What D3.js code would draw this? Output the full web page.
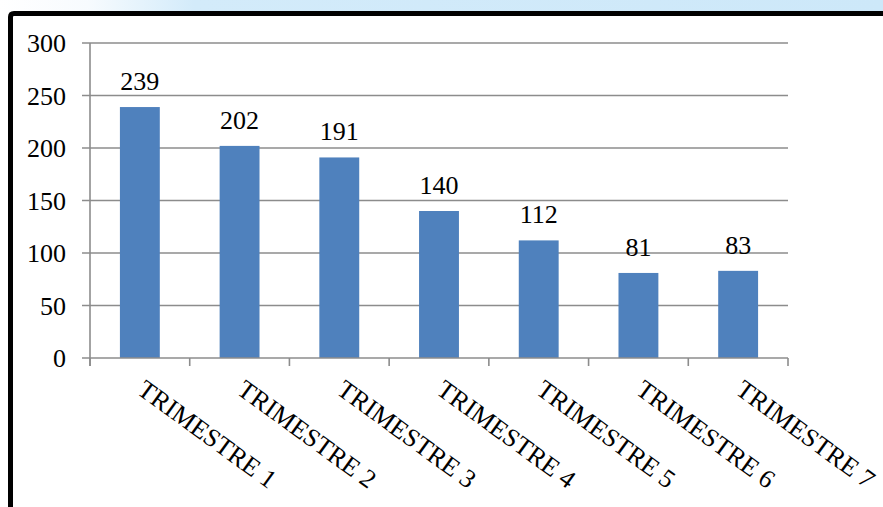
<!DOCTYPE html>
<html>
<head>
<meta charset="utf-8">
<script src="https://cdn.jsdelivr.net/npm/d3@7"></script>
<style>
  html, body { margin: 0; padding: 0; background: #fff; }
  svg { display: block; }
</style>
</head>
<body>
<svg id="chart" width="883" height="507"></svg>
<script>
// Quarterly counts
const categories = ["TRIMESTRE 1", "TRIMESTRE 2", "TRIMESTRE 3", "TRIMESTRE 4",
                    "TRIMESTRE 5", "TRIMESTRE 6", "TRIMESTRE 7"];
const values = [239, 202, 191, 140, 112, 81, 83];
const yTicks = [0, 50, 100, 150, 200, 250, 300];

const W = 883, H = 507;
const margin = { left: 90, right: 95, top: 43, bottom: 149 };
const FONT = '"Liberation Serif"';
const svg = d3.select("#chart").style("font-family", FONT);

// Pale banner strip along the top edge
const defs = svg.append("defs");
const grad = defs.append("linearGradient").attr("id", "band")
  .attr("x1", 0).attr("x2", 1).attr("y1", 0).attr("y2", 0);
grad.append("stop").attr("offset", "0%").attr("stop-color", "#ffffff");
grad.append("stop").attr("offset", "10%").attr("stop-color", "#f7fbfe");
grad.append("stop").attr("offset", "22%").attr("stop-color", "#d3ebfa");
grad.append("stop").attr("offset", "100%").attr("stop-color", "#cde8f9");
svg.append("rect").attr("x", 0).attr("y", 0).attr("width", W).attr("height", 12)
  .attr("fill", "url(#band)");

// Frame: thick black line across the top and down the left side
svg.append("path")
  .attr("d", `M10.5,${H + 5} L10.5,17 Q10.5,13.5 14,13.5 L${W + 5},13.5`)
  .attr("fill", "none").attr("stroke", "#000").attr("stroke-width", 5);

const x = d3.scaleBand().domain(categories)
  .range([margin.left, W - margin.right]).paddingInner(0.6).paddingOuter(0.3);
const y = d3.scaleLinear().domain([0, 300]).range([H - margin.bottom, margin.top]);

const x0 = margin.left, x1 = W - margin.right, y0 = y(0);
const gridColor = "#8c8c8c";

// Horizontal gridlines (with short ticks left of the axis)
svg.append("g").selectAll("line").data(yTicks.filter(d => d > 0)).join("line")
  .attr("x1", x0 - 8).attr("x2", x1)
  .attr("y1", d => y(d)).attr("y2", d => y(d))
  .attr("stroke", gridColor).attr("stroke-width", 1.6);

// Bars
svg.append("g").selectAll("rect").data(values).join("rect")
  .attr("x", (d, i) => x(categories[i]))
  .attr("width", x.bandwidth())
  .attr("y", d => y(d))
  .attr("height", d => y0 - y(d))
  .attr("fill", "#4f81bd");

// Axes
const axisG = svg.append("g").attr("stroke", gridColor).attr("stroke-width", 1.6);
axisG.append("line").attr("x1", x0).attr("x2", x0).attr("y1", y(300)).attr("y2", y0 + 8);
axisG.append("line").attr("x1", x0 - 8).attr("x2", x1).attr("y1", y0).attr("y2", y0);
const step = x.step();
d3.range(categories.length + 1).forEach(i => {
  const bx = x0 + i * step;
  axisG.append("line").attr("x1", bx).attr("x2", bx).attr("y1", y0).attr("y2", y0 + 8);
});

// Y tick labels
svg.append("g").selectAll("text").data(yTicks).join("text")
  .attr("x", 66).attr("y", d => y(d) + 9)
  .attr("text-anchor", "end")
  .style("font-family", FONT).attr("font-size", 26).attr("fill", "#000")
  .text(d => String(d));

// Value labels above bars
svg.append("g").selectAll("text").data(values).join("text")
  .attr("x", (d, i) => x(categories[i]) + x.bandwidth() / 2)
  .attr("y", d => y(d) - 17)
  .attr("text-anchor", "middle")
  .style("font-family", FONT).attr("font-size", 26).attr("fill", "#000")
  .text(d => String(d));

// Rotated category labels
svg.append("g").selectAll("text").data(categories).join("text")
  .attr("transform", d => `translate(${x(d) + x.bandwidth() / 2 - 4},${y0 + 35}) rotate(36)`)
  .attr("text-anchor", "start")
  .style("font-family", FONT).attr("font-size", 26).attr("fill", "#000")
  .text(d => d);
</script>
</body>
</html>
